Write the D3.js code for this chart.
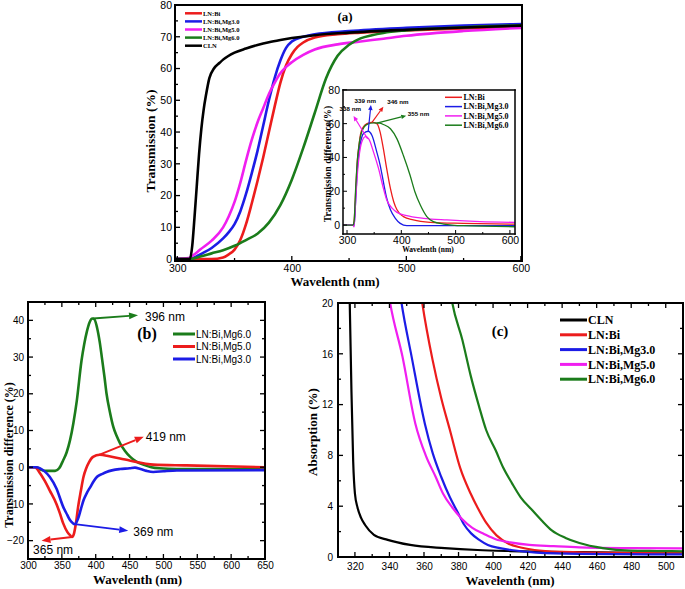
<!DOCTYPE html>
<html>
<head>
<meta charset="utf-8">
<script src="https://cdn.jsdelivr.net/npm/d3@7"></script>
<style>
body { margin: 0; background: #fff; }
</style>
</head>
<body>
<div id="chart"></div>
<script>
// ---------- data: panel (a) transmission spectra [nm, %] ----------
const transCLN = [[298,0],[311,0],[313,4],[315,13],[317,23],[319,33],[321,41],[323,47],[325,51.5],[328,57],[332,60],[337,61.8],[340,62.8],[350,65],[360,66.3],[370,67.4],[380,68.3],[390,69],[400,69.6],[420,70.5],[450,71.3],[500,72.2],[550,72.9],[601,73.5]];
const transBi = [[298,0],[330,0],[340,0.5],[345,1.5],[350,3],[355,6],[360,11],[365,17.5],[370,24.5],[375,32],[380,40],[385,48],[390,55.5],[395,61],[400,64.5],[405,66.8],[410,68.2],[420,69.8],[440,70.8],[460,71.3],[500,72],[550,72.6],[601,73]];
const transMg3 = [[298,0],[310,0],[315,0.5],[320,1.5],[330,3.5],[340,6.5],[345,8.5],[350,11],[355,15],[360,20.5],[365,27],[370,34],[375,42],[380,50],[385,57],[390,62.5],[395,66.5],[400,68.5],[410,70],[420,70.8],[450,71.8],[500,72.8],[550,73.5],[601,74]];
const transMg5 = [[298,0],[310,0.3],[315,1.5],[320,3],[330,5.8],[340,10],[345,13.5],[350,18],[355,24],[360,31],[365,37.5],[370,43],[375,47.5],[380,52],[385,55.5],[390,58.5],[395,60.5],[400,62],[410,64.3],[420,66],[440,67.6],[460,68.5],[480,69.4],[500,70.3],[550,71.8],[601,72.8]];
const transMg6 = [[298,0],[311,0],[320,0.8],[330,1.8],[340,2.8],[350,4.2],[360,6],[370,8],[380,11.5],[390,17],[400,25],[410,35],[420,46],[430,57],[440,64],[450,67.5],[460,69.5],[470,70.5],[480,71.2],[500,72],[550,73],[601,73.6]];

// inset: transmission difference [nm, %]
const insBi = [[293,0],[311,0],[313,2],[316,20],[319,38],[322,47],[325,54],[330,58],[337,60],[346,60.8],[355,60],[361,55],[367,45],[373,33.5],[380,21.5],[386,13.8],[392,9],[404,5],[422,3],[453,1.6],[514,1],[609,0.5]];
const insMg3 = [[293,0],[311,0],[313,-0.5],[316,15],[319,33],[322,43],[325,49],[330,54],[339,55.5],[346,53],[355,43],[361,35.5],[367,25.5],[373,16],[380,9],[389,4],[398,1],[410,-0.4],[609,-0.4]];
const insMg5 = [[293,0],[311,0],[313,-1],[316,15],[319,30],[322,40],[327,49],[334,52.3],[340,51],[349,43],[358,33.5],[367,21.7],[373,15],[383,10],[392,7.5],[410,5.5],[441,4],[484,3],[545,2],[609,1.6]];
const insMg6 = [[293,0],[311,0],[313,2],[316,22],[319,38],[322,47],[327,55],[337,59.6],[349,60.5],[360,60.3],[367,59.5],[380,57],[392,51],[404,41],[416,29.6],[425,19.7],[435,11.8],[447,5],[459,2],[478,0.6],[514,-0.4],[609,-1]];
const insetPeaks = [339, 346, 338, 355];

// ---------- data: panel (b) transmission difference [nm, %] ----------
const diffMg6 = [[300,0],[312,0],[318,-0.6],[325,-1],[340,-1],[346,-0.3],[352,1.9],[357,4],[362,7.3],[367,12],[372,18],[379,29],[383,33.5],[387,37],[391,39.5],[395,40.5],[398,40.3],[402,38],[406,34],[409,30],[413,24.5],[416,20],[421,15],[426,11],[431,8.5],[436,6.5],[443,4.5],[451,2.8],[460,1.5],[470,0.7],[482,0],[494,-0.3],[520,-0.5],[650,-0.5]];
const diffMg5 = [[300,0],[310,0],[318,-1.7],[325,-3.8],[332,-6.3],[342,-10],[347,-12.5],[352,-15.3],[358,-17.6],[362,-18.5],[365,-19],[368,-18],[371,-15],[374,-10.8],[378,-6.5],[382,-2.6],[386,-0.3],[390,1.3],[396,2.8],[406,3.4],[420,3],[436,2.4],[450,1.8],[460,1.4],[472,1],[485,0.7],[534,0.5],[650,0]];
const diffMg3 = [[300,0],[312,0],[318,-0.3],[325,-1.2],[332,-2.6],[342,-5.8],[352,-10.8],[358,-13],[362,-14.4],[366,-15.2],[369,-15.5],[374,-14],[378,-11.5],[382,-9],[387,-7],[392,-5.4],[397,-3.8],[402,-2.6],[410,-1.8],[416,-1.3],[436,-0.5],[450,-0.3],[458,-0.1],[466,-0.5],[475,-1],[485,-1.3],[500,-1.1],[520,-0.9],[650,-0.8]];

// ---------- data: panel (c) absorption [nm, %] ----------
const absCLN = [[315.5,30],[316.5,23],[317,20],[318,13],[319,7.5],[320,5],[321.5,3.9],[323.5,3.1],[326,2.5],[331,1.75],[339,1.35],[352,0.95],[372,0.7],[391,0.55],[410,0.47],[450,0.38],[510,0.3]];
const absBi = [[355,24],[359,20],[365,15.5],[370,12.5],[375,10],[381,7],[387,5],[391,3.9],[396,2.7],[402,1.7],[409,1.05],[416,0.75],[424,0.55],[440,0.4],[470,0.32],[510,0.3]];
const absMg3 = [[343,24],[347,20],[352.8,15.8],[360.5,10.5],[365,8.2],[370,6.3],[375,4.7],[379.6,3.5],[383,2.6],[387.3,1.86],[392,1.35],[397,0.95],[404,0.7],[410.5,0.55],[425,0.35],[450,0.25],[510,0.2]];
const absMg5 = [[336,24],[340.4,20],[347.5,15.8],[355,10.5],[361,8],[366.8,6.3],[371,5],[376.4,3.9],[382,3],[388,2.3],[395,1.8],[401.5,1.4],[410,1.15],[421,0.95],[435,0.85],[450,0.76],[480,0.7],[510,0.68]];
const absMg6 = [[372,24],[376.4,20],[382.2,17.1],[387,14.3],[391.8,11.9],[396,10],[401.5,8.4],[406,7],[411,5.8],[416,4.7],[422.6,3.7],[428,2.9],[434,2.1],[442,1.5],[450,1.1],[463.5,0.7],[478.9,0.5],[495,0.47],[510,0.45]];

const RED = "#ec1c1c", BLUE = "#1c1ce6", MAG = "#f01ef0", GREEN = "#1b7c1b", BLACK = "#000";
const SERIF = "'Liberation Serif', 'Times New Roman', serif";
const SANS = "'Liberation Sans', Arial, sans-serif";

const svg = d3.select("#chart").append("svg")
    .attr("width", 685)
    .attr("height", 589)
    .style("background", "#fff");

const defs = svg.append("defs");
const panels = [];

function range(a, b, s) {
    return d3.range(a, b + s / 2, s);
}

// straight arrow with a filled triangular head
function arrow(g, x1, y1, x2, y2, color, sw, hl, hw) {
    const a = Math.atan2(y2 - y1, x2 - x1);
    const bx = x2 - hl * Math.cos(a), by = y2 - hl * Math.sin(a);
    const ox = hw / 2 * Math.sin(a), oy = hw / 2 * Math.cos(a);
    g.append("line")
        .attr("x1", x1).attr("y1", y1).attr("x2", bx).attr("y2", by)
        .attr("stroke", color).attr("stroke-width", sw);
    g.append("path")
        .attr("d", `M${x2},${y2}L${bx + ox},${by - oy}L${bx - ox},${by + oy}Z`)
        .attr("fill", color);
}

function makePanel(cfg) {
    const x = d3.scaleLinear().domain(cfg.xDomain).range([cfg.left, cfg.right]);
    const y = d3.scaleLinear().domain(cfg.yDomain).range([cfg.bottom, cfg.top]);
    const g = svg.append("g");
    const w = cfg.right - cfg.left, h = cfg.bottom - cfg.top;

    g.append("rect")
        .attr("x", cfg.left).attr("y", cfg.top)
        .attr("width", w).attr("height", h)
        .attr("fill", "#fff");

    defs.append("clipPath").attr("id", "clip-" + cfg.name)
        .append("rect")
        .attr("x", cfg.left).attr("y", cfg.top)
        .attr("width", w).attr("height", h);

    // tick labels from d3 axes; the tick marks are drawn in the overlay
    const ax = g.append("g");
    ax.append("g").attr("transform", `translate(0,${cfg.bottom})`)
        .call(d3.axisBottom(x).tickValues(cfg.xTicks).tickSize(0).tickPadding(cfg.xPad))
        .call(a => a.select(".domain").remove())
        .attr("font-family", SANS).attr("font-size", cfg.fontSize);
    ax.append("g").attr("transform", `translate(${cfg.left},0)`)
        .call(d3.axisLeft(y).tickValues(cfg.yTicks).tickSize(0).tickPadding(cfg.yPad))
        .call(a => a.select(".domain").remove())
        .attr("font-family", SANS).attr("font-size", cfg.fontSize);
    ax.selectAll("text").attr("fill", "#000");

    const plot = g.append("g").attr("clip-path", `url(#clip-${cfg.name})`);
    const line = d3.line().x(d => x(d[0])).y(d => y(d[1])).curve(d3.curveMonotoneX);

    function series(data, color, width) {
        plot.append("path").datum(data)
            .attr("d", line)
            .attr("fill", "none")
            .attr("stroke", color)
            .attr("stroke-width", width)
            .attr("stroke-linejoin", "round");
    }

    const p = {x, y, g, plot, series, cfg};
    panels.push(p);
    return p;
}

// frame and tick marks as filled black bars, on top of everything
function drawFrames() {
    const over = svg.append("g").attr("fill", "#000");
    const bar = (x, y, w, h) => over.append("rect")
        .attr("x", x).attr("y", y).attr("width", w).attr("height", h).attr("fill", "#000");
    panels.forEach(p => {
        const c = p.cfg, t = c.tickWidth, f = c.frameWidth;
        const xm = (vals, len) => vals.forEach(v => {
            bar(p.x(v) - t / 2, c.bottom - len, t, len);
            if (c.mirror) bar(p.x(v) - t / 2, c.top, t, len);
        });
        const ym = (vals, len) => vals.forEach(v => {
            bar(c.left, p.y(v) - t / 2, len, t);
            if (c.mirror) bar(c.right - len, p.y(v) - t / 2, len, t);
        });
        xm(c.xTicks, c.tick);
        xm(c.xMinor, c.minorTick);
        ym(c.yTicks, c.tick);
        ym(c.yMinor, c.minorTick);
        bar(c.left - f / 2, c.top - f / 2, c.right - c.left + f, f);
        bar(c.left - f / 2, c.bottom - f / 2, c.right - c.left + f, f);
        bar(c.left - f / 2, c.top - f / 2, f, c.bottom - c.top + f);
        bar(c.right - f / 2, c.top - f / 2, f, c.bottom - c.top + f);
    });
}

function label(g, str, x, y, opts) {
    const t = g.append("text")
        .attr("x", x).attr("y", y)
        .attr("font-family", opts.family || SERIF)
        .attr("font-size", opts.size)
        .attr("font-weight", opts.weight || "normal")
        .attr("text-anchor", opts.anchor || "start")
        .attr("fill", "#000")
        .text(str);
    if (opts.rotate) t.attr("transform", `rotate(-90,${x},${y})`);
    if (opts.middle) t.attr("dy", "0.35em");
    return t;
}

function legend(g, items, x1, x2, tx, y0, dy, size, family, weight, width) {
    items.forEach((it, i) => {
        const yy = y0 + i * dy;
        g.append("line").attr("x1", x1).attr("x2", x2).attr("y1", yy).attr("y2", yy)
            .attr("stroke", it.color).attr("stroke-width", width);
        label(g, it.label, tx, yy, {size, family, weight, middle: true});
    });
}

// ================= panel (a) =================
const pa = makePanel({
    name: "a", left: 175, right: 522, top: 5, bottom: 261,
    xDomain: [298, 601], yDomain: [-0.6, 80],
    xTicks: range(300, 600, 100), xMinor: [350, 450, 550],
    yTicks: range(0, 80, 10), yMinor: range(5, 75, 10),
    tick: 5, minorTick: 3, tickWidth: 1.3, xPad: 4, yPad: 3,
    fontSize: 10.5, frameWidth: 2, mirror: false
});
pa.series(transBi, RED, 2.6);
pa.series(transMg3, BLUE, 2.6);
pa.series(transMg5, MAG, 2.6);
pa.series(transMg6, GREEN, 2.6);
pa.series(transCLN, BLACK, 2.6);
label(pa.g, "Transmission (%)", 155, 141, {size: 13.5, weight: "bold", anchor: "middle", rotate: true});
label(pa.g, "Wavelenth (nm)", 335, 286, {size: 13, weight: "bold", anchor: "middle"});
label(pa.g, "(a)", 345, 21, {size: 13, weight: "bold", anchor: "middle"});
legend(pa.g, [
    {label: "LN:Bi", color: RED},
    {label: "LN:Bi,Mg3.0", color: BLUE},
    {label: "LN:Bi,Mg5.0", color: MAG},
    {label: "LN:Bi,Mg6.0", color: GREEN},
    {label: "CLN", color: BLACK}
], 185, 202, 203, 13.3, 8.1, 6.5, SERIF, "bold", 2.5);

// ---- inset ----
const pi = makePanel({
    name: "inset", left: 343, right: 515, top: 90, bottom: 234,
    xDomain: [292.6, 609.4], yDomain: [-5.3, 79.9],
    xTicks: range(300, 600, 100), xMinor: [350, 450, 550],
    yTicks: range(0, 80, 20), yMinor: range(10, 70, 20),
    tick: 4, minorTick: 2, tickWidth: 1, xPad: 3, yPad: 3,
    fontSize: 10.5, frameWidth: 1.5, mirror: false
});
pi.series(insBi, RED, 1.3);
pi.series(insMg3, BLUE, 1.3);
pi.series(insMg5, MAG, 1.3);
pi.series(insMg6, GREEN, 1.3);
label(pi.g, "Transmission difference(%)", 331, 164, {size: 9.8, weight: "bold", anchor: "middle", rotate: true});
label(pi.g, "Wavelenth (nm)", 428, 252, {size: 7.5, weight: "bold", anchor: "middle"});
legend(pi.g, [
    {label: "LN:Bi", color: RED},
    {label: "LN:Bi,Mg3.0", color: BLUE},
    {label: "LN:Bi,Mg5.0", color: MAG},
    {label: "LN:Bi,Mg6.0", color: GREEN}
], 445, 462, 463.5, 97.3, 9.3, 8, SERIF, "bold", 1.5);

// inset peak arrows: arrow end and label anchor given in data units
const insetNotes = [
    {data: insMg3, color: BLUE, to: [344, 71], at: [333.6, 72.3], anchor: "middle"},
    {data: insBi, color: RED, to: [367, 70], at: [374, 71.4], anchor: "start"},
    {data: insMg5, color: MAG, to: [312, 64.5], at: [306, 67.5], anchor: "middle"},
    {data: insMg6, color: GREEN, to: [409, 64.7], at: [412, 64.3], anchor: "start"}
];
insetNotes.forEach((n, i) => {
    const pk = insetPeaks[i];
    const pt = n.data.reduce((a, b) => Math.abs(b[0] - pk) < Math.abs(a[0] - pk) ? b : a);
    arrow(pi.g, pi.x(pk), pi.y(pt[1]), pi.x(n.to[0]), pi.y(n.to[1]), n.color, 1.2, 5, 4.5);
    label(pi.g, pk + " nm", pi.x(n.at[0]), pi.y(n.at[1]),
        {size: 6.2, family: SANS, weight: "bold", anchor: n.anchor});
});

// ================= panel (b) =================
const pb = makePanel({
    name: "b", left: 28, right: 265, top: 302, bottom: 559,
    xDomain: [300, 650], yDomain: [-25, 45],
    xTicks: range(300, 650, 50), xMinor: range(325, 625, 50),
    yTicks: range(-20, 40, 10), yMinor: range(-15, 35, 10),
    tick: 5, minorTick: 3, tickWidth: 1.3, xPad: 3, yPad: 4,
    fontSize: 10, frameWidth: 2, mirror: true
});
pb.series(diffMg6, GREEN, 2.6);
pb.series(diffMg5, RED, 2.6);
pb.series(diffMg3, BLUE, 2.6);
label(pb.g, "Transmission difference (%)", 12.5, 455, {size: 12, weight: "bold", anchor: "middle", rotate: true});
label(pb.g, "Wavelenth (nm)", 137.5, 584, {size: 13, weight: "bold", anchor: "middle"});
label(pb.g, "(b)", 147, 339, {size: 16, weight: "bold", anchor: "middle"});
legend(pb.g, [
    {label: "LN:Bi,Mg6.0", color: GREEN},
    {label: "LN:Bi,Mg5.0", color: RED},
    {label: "LN:Bi,Mg3.0", color: BLUE}
], 173, 195, 196, 334, 12.5, 10, SANS, "normal", 3);

// panel (b) arrows: from a point on the curve to the label
const bNotes = [
    {from: [396, 40.5], to: [462.5, 41.4], label: "396 nm", at: [472.8, 41.1], color: GREEN},
    {from: [404, 3.3], to: [471, 8.3], label: "419 nm", at: [474, 8.2], color: RED},
    {from: [369, -15.5], to: [448, -17.3], label: "369 nm", at: [455.5, -17.6], color: BLUE},
    {from: [365, -19], to: [320, -20], label: "365 nm", at: [307.5, -22.4], color: RED}
];
bNotes.forEach(n => {
    arrow(pb.g, pb.x(n.from[0]), pb.y(n.from[1]), pb.x(n.to[0]), pb.y(n.to[1]), n.color, 2, 9, 7);
    label(pb.g, n.label, pb.x(n.at[0]), pb.y(n.at[1]), {size: 12, family: SANS, middle: true});
});

// ================= panel (c) =================
const pc = makePanel({
    name: "c", left: 338, right: 683, top: 303, bottom: 557,
    xDomain: [310.2, 510], yDomain: [0, 20],
    xTicks: range(320, 500, 20), xMinor: range(330, 490, 20),
    yTicks: range(0, 20, 4), yMinor: range(2, 18, 4),
    tick: 5, minorTick: 3, tickWidth: 1.3, xPad: 6, yPad: 5,
    fontSize: 10, frameWidth: 2, mirror: true
});
pc.series(absCLN, BLACK, 2.2);
pc.series(absBi, RED, 2.2);
pc.series(absMg3, BLUE, 2.2);
pc.series(absMg5, MAG, 2.2);
pc.series(absMg6, GREEN, 2.2);
label(pc.g, "Absorption (%)", 317, 432, {size: 13, weight: "bold", anchor: "middle", rotate: true});
label(pc.g, "Wavelenth (nm)", 510, 585, {size: 13, weight: "bold", anchor: "middle"});
label(pc.g, "(c)", 500, 336, {size: 15, weight: "bold", anchor: "middle"});
legend(pc.g, [
    {label: "CLN", color: BLACK},
    {label: "LN:Bi", color: RED},
    {label: "LN:Bi,Mg3.0", color: BLUE},
    {label: "LN:Bi,Mg5.0", color: MAG},
    {label: "LN:Bi,Mg6.0", color: GREEN}
], 560, 587, 588, 320, 14.8, 12, SERIF, "bold", 3);

drawFrames();
</script>
</body>
</html>
